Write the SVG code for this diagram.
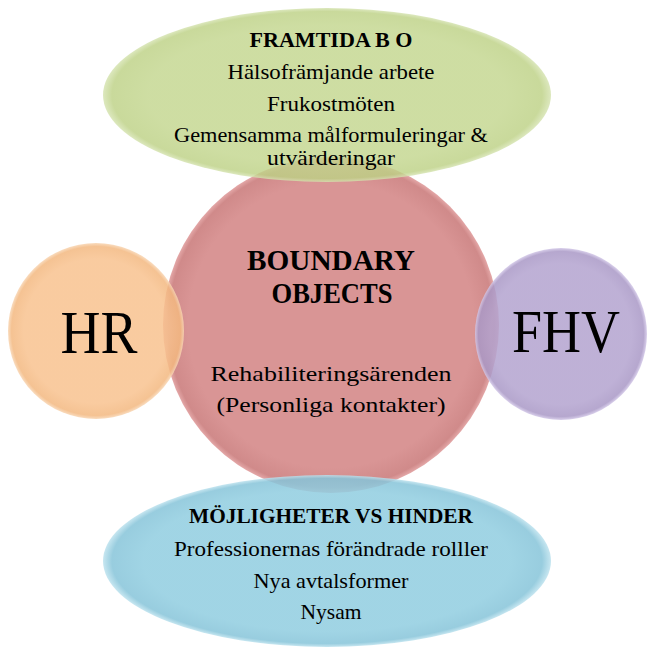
<svg xmlns="http://www.w3.org/2000/svg" width="647" height="647" viewBox="0 0 647 647">
<style>
text{font-family:"Liberation Serif","DejaVu Serif",serif;fill:#000;text-anchor:middle}
.t{font-size:21px}
.h{font-size:22px;font-weight:bold}
.c{font-size:29px;font-weight:bold}
.big{font-size:61px}
</style>
<defs>
<radialGradient id="gG" cx="0.5" cy="0.5" r="0.5">
<stop offset="0.8" stop-color="#c3d68e"/><stop offset="0.96" stop-color="#bdd185"/><stop offset="1" stop-color="#d5e3b0"/>
</radialGradient>
<radialGradient id="gR" cx="0.5" cy="0.5" r="0.5">
<stop offset="0.85" stop-color="#d99595"/><stop offset="0.97" stop-color="#d08a8a"/><stop offset="1" stop-color="#e4a8a8"/>
</radialGradient>
<radialGradient id="gO" cx="0.5" cy="0.5" r="0.5">
<stop offset="0.82" stop-color="#f8c28f"/><stop offset="0.96" stop-color="#f3b880"/><stop offset="1" stop-color="#f8d6b4"/>
</radialGradient>
<radialGradient id="gP" cx="0.5" cy="0.5" r="0.5">
<stop offset="0.82" stop-color="#b3a3cf"/><stop offset="0.96" stop-color="#a998c6"/><stop offset="1" stop-color="#d3c8e8"/>
</radialGradient>
<radialGradient id="gB" cx="0.5" cy="0.5" r="0.5">
<stop offset="0.82" stop-color="#90cde0"/><stop offset="0.96" stop-color="#86c4d9"/><stop offset="1" stop-color="#bde2ee"/>
</radialGradient>
</defs>
<rect width="647" height="647" fill="#fff"/>
<g id="boundary">
<circle cx="331" cy="325" r="168" fill="url(#gR)"/>
<text class="c" x="331" y="270" textLength="168" lengthAdjust="spacingAndGlyphs">BOUNDARY</text>
<text class="c" x="332" y="303" textLength="121" lengthAdjust="spacingAndGlyphs">OBJECTS</text>
<text class="t" x="331" y="381" textLength="241" lengthAdjust="spacingAndGlyphs">Rehabiliteringsärenden</text>
<text class="t" x="331" y="412" textLength="229" lengthAdjust="spacingAndGlyphs">(Personliga kontakter)</text>
</g>
<g id="framtida">
<ellipse cx="327" cy="95" rx="224" ry="87" fill="url(#gG)" fill-opacity="0.82"/>
<text class="h" x="331" y="47" textLength="163" lengthAdjust="spacingAndGlyphs">FRAMTIDA B O</text>
<text class="t" x="331" y="79" textLength="207" lengthAdjust="spacingAndGlyphs">Hälsofrämjande arbete</text>
<text class="t" x="331" y="111" textLength="128" lengthAdjust="spacingAndGlyphs">Frukostmöten</text>
<text class="t" x="331" y="142" textLength="314" lengthAdjust="spacingAndGlyphs">Gemensamma målformuleringar &amp;</text>
<text class="t" x="331" y="165" textLength="128" lengthAdjust="spacingAndGlyphs">utvärderingar</text>
</g>
<g id="hr">
<circle cx="96" cy="331" r="88" fill="url(#gO)" fill-opacity="0.85"/>
<text class="big" x="99" y="353" textLength="77" lengthAdjust="spacingAndGlyphs">HR</text>
</g>
<g id="fhv">
<circle cx="561" cy="334" r="86" fill="url(#gP)" fill-opacity="0.85"/>
<text class="big" x="566" y="352" textLength="108" lengthAdjust="spacingAndGlyphs">FHV</text>
</g>
<g id="mojligheter">
<ellipse cx="327" cy="561" rx="224" ry="86" fill="url(#gB)" fill-opacity="0.85"/>
<text class="h" x="331" y="523" textLength="284" lengthAdjust="spacingAndGlyphs">MÖJLIGHETER VS HINDER</text>
<text class="t" x="331" y="556" textLength="314" lengthAdjust="spacingAndGlyphs">Professionernas förändrade rolller</text>
<text class="t" x="331" y="588" textLength="155" lengthAdjust="spacingAndGlyphs">Nya avtalsformer</text>
<text class="t" x="331" y="619" textLength="61" lengthAdjust="spacingAndGlyphs">Nysam</text>
</g>
<g id="connectors"/>
</svg>
